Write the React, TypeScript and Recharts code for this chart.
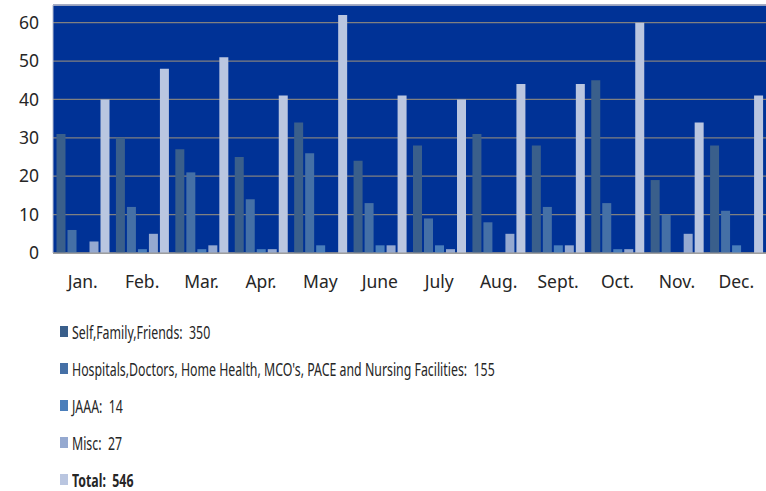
import { BarChart, Bar, XAxis, YAxis, CartesianGrid, Legend, ReferenceLine } from "recharts";

const months = ["Jan.", "Feb.", "Mar.", "Apr.", "May", "June", "July", "Aug.", "Sept.", "Oct.", "Nov.", "Dec."];
const selfFamily = [31, 30, 27, 25, 34, 24, 28, 31, 28, 45, 19, 28];
const hospitals = [6, 12, 21, 14, 26, 13, 9, 8, 12, 13, 10, 11];
const jaaa = [0, 1, 1, 1, 2, 2, 2, 0, 2, 1, 0, 2];
const misc = [3, 5, 2, 1, 0, 2, 1, 5, 2, 1, 5, 0];
const total = [40, 48, 51, 41, 62, 41, 40, 44, 44, 60, 34, 41];
const yTicks = [0, 10, 20, 30, 40, 50, 60];
const yMax = 64.6;

const series = [
  { key: "self", label: "Self,Family,Friends:  350", color: "#3a5f8b", bold: false },
  { key: "hosp", label: "Hospitals,Doctors, Home Health, MCO's, PACE and Nursing Facilities:  155", color: "#4570a6", bold: false },
  { key: "jaaa", label: "JAAA:  14", color: "#4a7ebb", bold: false },
  { key: "misc", label: "Misc:  27", color: "#95a9d0", bold: false },
  { key: "total", label: "Total:  546", color: "#bac6e0", bold: true },
];

const data = months.map((m, i) => ({
  month: m,
  self: selfFamily[i],
  hosp: hospitals[i],
  jaaa: jaaa[i],
  misc: misc[i],
  total: total[i],
}));

const font = "'Noto Sans', sans-serif";

function LegendBox() {
  return (
    <div style={{ height: 180, paddingTop: 2, boxSizing: "border-box", fontFamily: font }}>
      {series.map((s) => (
        <div
          key={s.key}
          style={{
            height: 37,
            display: "flex",
            alignItems: "center",
            paddingLeft: 60,
            color: "#262626",
            whiteSpace: "pre",
          }}
        >
          <span style={{ width: 8, height: 11, background: s.color, marginRight: 4, display: "inline-block", flex: "none" }} />
          <span
            style={{
              fontSize: 17.5,
              fontWeight: s.bold ? 700 : 400,
              display: "inline-block",
              transform: "scaleX(0.705)",
              transformOrigin: "left center",
            }}
          >
            {s.label}
          </span>
        </div>
      ))}
    </div>
  );
}

export default function App() {
  return (
    <div style={{ position: "absolute", left: 0, top: 0, background: "#fff" }}>
      <BarChart
        width={766}
        height={491}
        data={data}
        margin={{ top: 5, right: 0, bottom: 0, left: 0 }}
        barCategoryGap={3.5}
        barGap={2}
      >
        <CartesianGrid vertical={false} fill="#003296" stroke="#808080" strokeWidth={1.3} />
        <XAxis
          dataKey="month"
          height={58}
          tickLine={false}
          axisLine={{ stroke: "#999" }}
          tick={{ fill: "#262626", fontSize: 17.5, fontFamily: font, dy: 15 }}
        />
        <YAxis
          width={53}
          domain={[0, yMax]}
          ticks={yTicks}
          tickLine={false}
          axisLine={{ stroke: "#b0b8d0" }}
          tick={{ fill: "#262626", fontSize: 17.5, fontFamily: font, dx: -6 }}
        />
        <ReferenceLine y={yMax} stroke="#a8b2d0" strokeWidth={1.5} />
        <Legend verticalAlign="bottom" align="left" content={() => <LegendBox />} />
        {series.map((s) => (
          <Bar key={s.key} dataKey={s.key} fill={s.color} isAnimationActive={false} />
        ))}
      </BarChart>
    </div>
  );
}
